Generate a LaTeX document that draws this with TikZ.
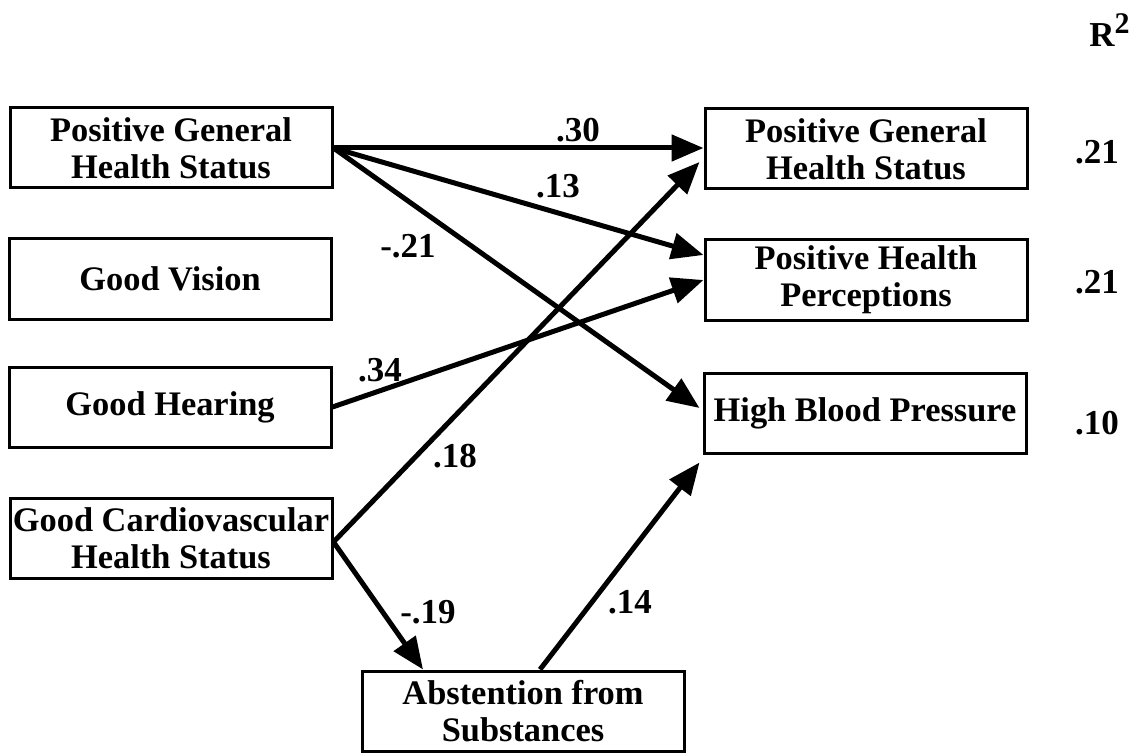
\documentclass[tikz,border=0pt]{standalone}
\usepackage{fontspec}
\setmainfont{Liberation Serif}
\usetikzlibrary{arrows.meta}
\begin{document}
\begin{tikzpicture}[x=0.5pt,y=-0.5pt,
  box/.style={draw=black, line width=1.5pt, inner sep=0pt, align=center,
    minimum width=161pt, minimum height=40pt,
    font=\fontsize{17.2}{18.5}\selectfont\bfseries},
  coef/.style={font=\fontsize{17.5}{18.5}\selectfont\bfseries, inner sep=0pt},
  arr/.style={line width=2.5pt, -{Triangle[length=16pt,width=13pt]}},
]
\useasboundingbox (0,0) rectangle (1140,754);
% left column
\node[box] (pgl) at (171,148) {Positive General\\Health Status};
\node[box] (gv)  at (170,279) {Good Vision};
\node[box] (gh)  at (170,407) {Good Hearing};
\node[box] (gc)  at (171,538) {Good Cardiovascular\\Health Status};
% bottom
\node[box] (ab)  at (523,711) {Abstention from\\Substances};
% right column
\node[box] (pgr) at (866,149) {Positive General\\Health Status};
\node[box] (php) at (866,280) {Positive Health\\Perceptions};
\node[box] (hbp) at (865,413) {High Blood Pressure};
% R^2 column
\node[coef] (rsq) at (1110,30) {R\textsuperscript{\fontsize{15}{15}\selectfont 2}};
\node[coef] (r1) at (1097,152) {.21};
\node[coef] (r2) at (1097,282) {.21};
\node[coef] (r3) at (1097,423) {.10};
% connectors
\draw[arr] (pgl.east) -- (pgl.east -| pgr.west);
\draw[arr] (pgl.east) -- ([yshift=12.5pt]php.west);
\draw[arr] (pgl.east) -- ([xshift=-1.5pt,yshift=2.5pt]hbp.west);
\draw[arr] (gh.east) -- (php.west);
\draw[arr] ([yshift=-2pt]gc.east) -- ([xshift=-2pt,yshift=-6.5pt]pgr.west);
\draw[arr] ([yshift=-2pt]gc.east) -- ([xshift=-50pt]ab.north);
\draw[arr] ([xshift=8.5pt]ab.north) -- ([xshift=-1.5pt,yshift=-4pt]hbp.south west);
% coefficient labels
\node[coef] (c30) at (578,130) {.30};
\node[coef] (c13) at (558,186) {.13};
\node[coef] (c21) at (408,246) {-.21};
\node[coef] (c34) at (380,370) {.34};
\node[coef] (c18) at (455,456) {.18};
\node[coef] (c19) at (428,612) {-.19};
\node[coef] (c14) at (630,602) {.14};
\end{tikzpicture}
\end{document}
